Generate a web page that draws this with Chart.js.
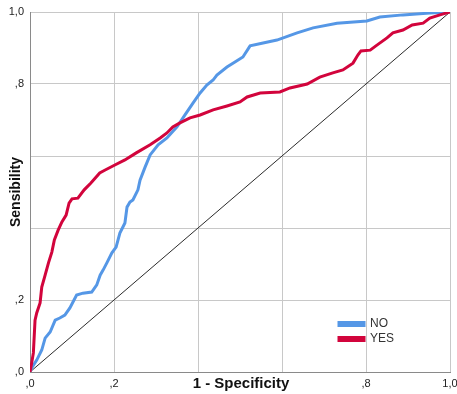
<!DOCTYPE html>
<html>
<head>
<meta charset="utf-8">
<title>ROC Curve</title>
<script src="https://cdn.jsdelivr.net/npm/chart.js@4"></script>
<style>
  body { margin: 0; background: #fff; }
  canvas { display: block; }
</style>
</head>
<body>
<canvas id="rocChart" width="457" height="394"></canvas>
<script>
// ROC curve points (1 - specificity, sensitivity)
const noFpr = [0, 0.004, 0.016, 0.028, 0.036, 0.048, 0.060, 0.071, 0.083, 0.095, 0.111, 0.126, 0.147, 0.159, 0.167, 0.174, 0.183, 0.195, 0.205, 0.214, 0.226, 0.231, 0.238, 0.245, 0.257, 0.262, 0.274, 0.286, 0.305, 0.326, 0.350, 0.369, 0.388, 0.405, 0.421, 0.436, 0.445, 0.469, 0.488, 0.507, 0.524, 0.555, 0.588, 0.636, 0.674, 0.731, 0.802, 0.833, 0.888, 0.952, 1];
const noTpr = [0, 0.011, 0.033, 0.061, 0.094, 0.111, 0.144, 0.150, 0.158, 0.178, 0.214, 0.219, 0.222, 0.242, 0.269, 0.283, 0.303, 0.331, 0.347, 0.386, 0.414, 0.458, 0.472, 0.478, 0.506, 0.533, 0.569, 0.603, 0.631, 0.650, 0.681, 0.714, 0.747, 0.775, 0.797, 0.811, 0.825, 0.847, 0.861, 0.875, 0.906, 0.914, 0.922, 0.942, 0.956, 0.969, 0.975, 0.986, 0.992, 0.997, 1];

const yesFpr = [0, 0.004, 0.008, 0.012, 0.016, 0.024, 0.028, 0.036, 0.044, 0.052, 0.058, 0.067, 0.076, 0.086, 0.093, 0.100, 0.114, 0.129, 0.145, 0.166, 0.179, 0.202, 0.226, 0.252, 0.286, 0.310, 0.326, 0.340, 0.357, 0.381, 0.405, 0.436, 0.469, 0.500, 0.517, 0.548, 0.595, 0.619, 0.660, 0.690, 0.721, 0.745, 0.769, 0.781, 0.788, 0.810, 0.826, 0.850, 0.864, 0.888, 0.910, 0.936, 0.952, 0.976, 1];
const yesTpr = [0, 0.025, 0.053, 0.144, 0.164, 0.192, 0.236, 0.269, 0.303, 0.333, 0.367, 0.394, 0.417, 0.436, 0.469, 0.481, 0.483, 0.506, 0.525, 0.553, 0.561, 0.575, 0.589, 0.608, 0.631, 0.650, 0.664, 0.681, 0.692, 0.706, 0.714, 0.728, 0.739, 0.750, 0.764, 0.775, 0.778, 0.789, 0.800, 0.819, 0.831, 0.839, 0.858, 0.881, 0.892, 0.894, 0.908, 0.928, 0.942, 0.950, 0.964, 0.969, 0.983, 0.992, 1];

const refLine = [0, 1];
const hiddenTicks = [0.4, 0.6];

function toPoints(xs, ys) {
    var pts = [];
    for (i = 0; i < xs.length; i++) {
        pts.push({ x: xs[i], y: ys[i] });
    }
    return pts;
}

// SPSS style tick text: 1,0 / ,8 / ,0
function tickText(v) {
    v = Math.round(v * 10) / 10;
    if (hiddenTicks.indexOf(v) >= 0) return '';
    if (v === 1) return '1,0';
    return ',' + Math.round(v * 10);
}

const FONT = "'Liberation Sans', Arial, sans-serif";

// axis titles sit over the tick label area, so they are drawn by hand
const axisTitles = {
    id: 'axisTitles',
    afterDraw(chart) {
        const ctx = chart.ctx;
        const area = chart.chartArea;
        ctx.save();
        ctx.fillStyle = '#111';
        ctx.textAlign = 'center';
        ctx.textBaseline = 'middle';
        ctx.font = 'bold 15px ' + FONT;
        ctx.fillText('1 - Specificity', (area.left + area.right) / 2 + 1, 384);
        ctx.translate(16, (area.top + area.bottom) / 2);
        ctx.rotate(-Math.PI / 2);
        ctx.font = 'bold 14px ' + FONT;
        ctx.fillText('Sensibility', 0, 0);
        ctx.restore();
    }
};

// move the legend to the lower right inside the plot
const legendSpot = {
    id: 'legendSpot',
    beforeDraw(chart) {
        const lg = chart.legend;
        lg.left = 336;
        lg.top = 315;
        lg.right = 457;
        lg.bottom = 352;
    }
};

new Chart(document.getElementById('rocChart'), {
    type: 'line',
    data: {
        datasets: [
            {
                label: 'NO',
                data: toPoints(noFpr, noTpr),
                borderColor: '#5597e6',
                backgroundColor: '#5597e6',
                borderWidth: 3,
                order: 2
            },
            {
                label: 'YES',
                data: toPoints(yesFpr, yesTpr),
                borderColor: '#d2043c',
                backgroundColor: '#d2043c',
                borderWidth: 3,
                order: 1
            },
            {
                label: 'ref',
                data: toPoints(refLine, refLine),
                borderColor: '#2a2a2a',
                backgroundColor: '#2a2a2a',
                borderWidth: 1,
                order: 3
            }
        ]
    },
    options: {
        responsive: false,
        animation: false,
        layout: { padding: { top: 12, right: 7, left: 0, bottom: 0 } },
        elements: {
            point: { radius: 0 },
            line: { tension: 0, fill: false }
        },
        scales: {
            x: {
                type: 'linear',
                min: 0,
                max: 1,
                ticks: {
                    stepSize: 0.2,
                    padding: 5,
                    maxRotation: 0,
                    color: '#222',
                    font: { family: FONT, size: 11 },
                    callback: tickText
                },
                grid: { color: '#c8c8c8', drawTicks: false },
                border: { color: '#8a8a8a' },
                afterFit(scale) {
                    scale.height = 22;
                    scale.paddingLeft = 0;
                    scale.paddingRight = 0;
                }
            },
            y: {
                min: 0,
                max: 1,
                ticks: {
                    stepSize: 0.2,
                    padding: 6,
                    color: '#222',
                    font: { family: FONT, size: 11 },
                    callback: tickText
                },
                grid: { color: '#c8c8c8', drawTicks: false },
                border: { color: '#8a8a8a' },
                afterFit(scale) {
                    scale.width = 30;
                    scale.paddingTop = 0;
                    scale.paddingBottom = 0;
                }
            }
        },
        plugins: {
            tooltip: { enabled: false },
            legend: {
                position: 'chartArea',
                align: 'start',
                labels: {
                    boxWidth: 25,
                    boxHeight: 3,
                    padding: 3,
                    color: '#333',
                    font: { family: FONT, size: 12 },
                    filter: function (item) { return item.text !== 'ref'; },
                    sort: function (a, b) { return a.datasetIndex - b.datasetIndex; }
                }
            }
        }
    },
    plugins: [axisTitles, legendSpot]
});
</script>
</body>
</html>
